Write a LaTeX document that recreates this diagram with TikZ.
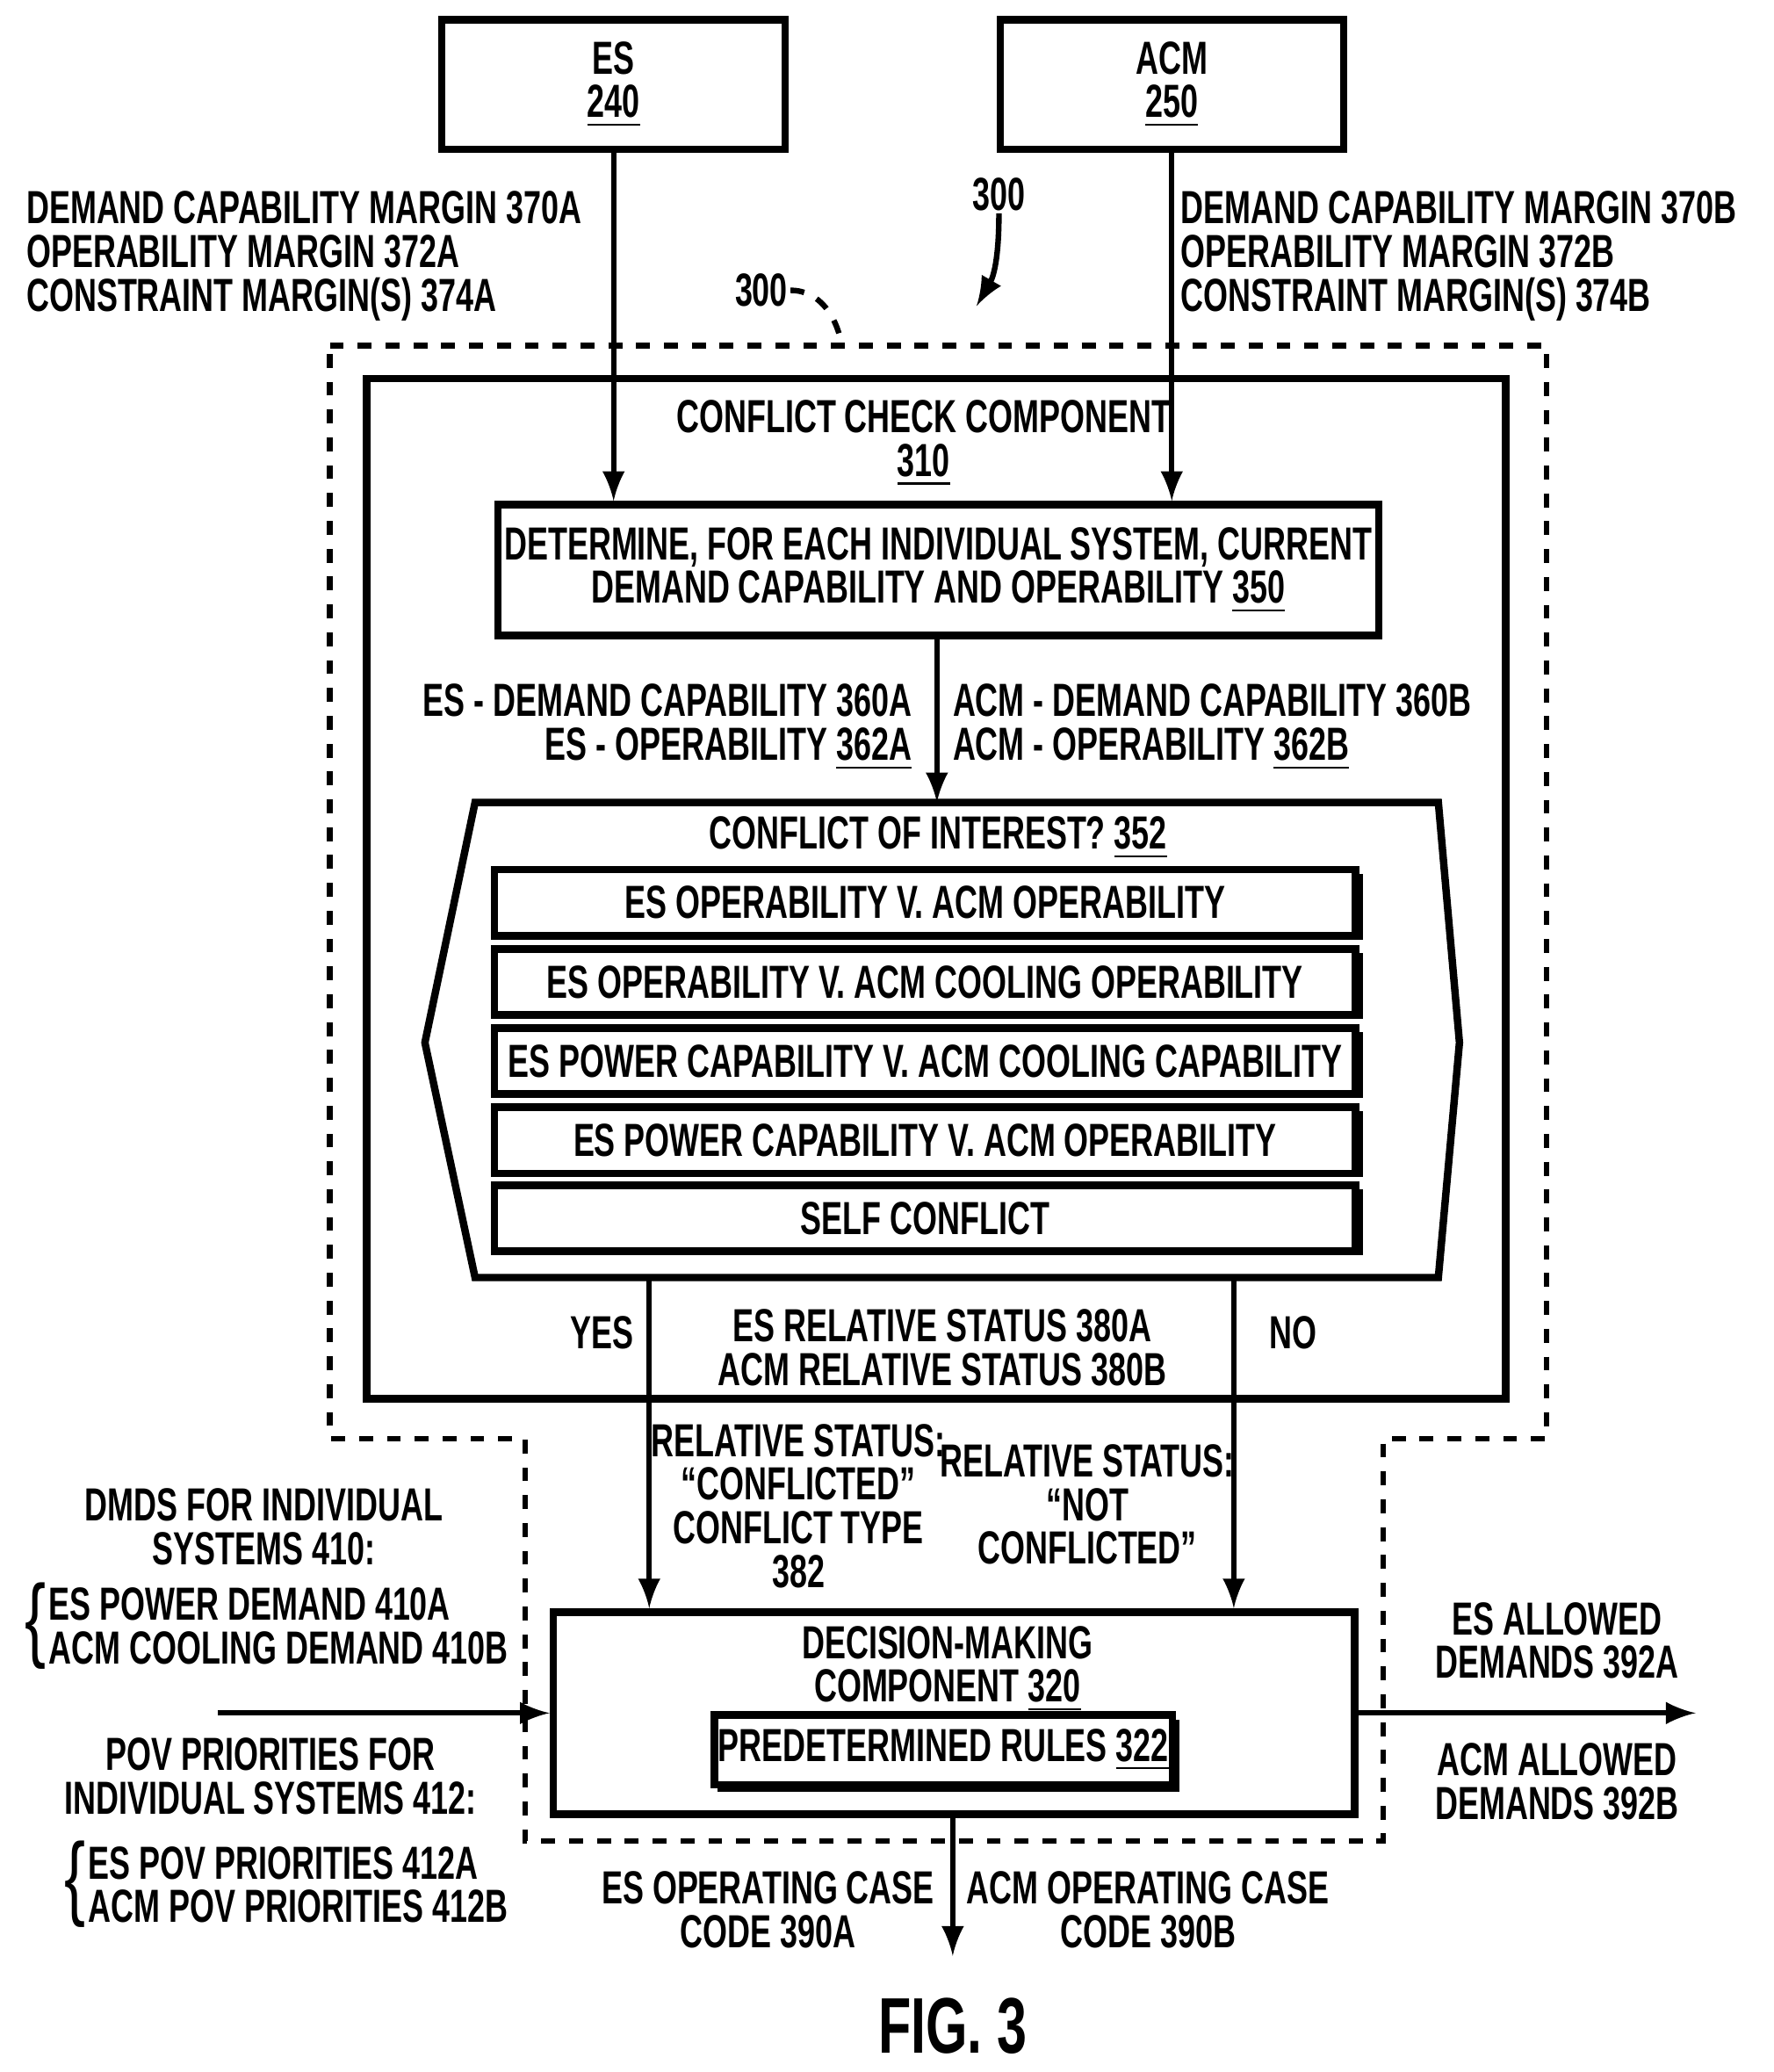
\documentclass[tikz,border=0pt]{standalone}
\usepackage{fontspec}
\setmainfont{Liberation Sans}[FakeStretch=0.68]
\usetikzlibrary{positioning,calc}
\newcommand{\ul}[1]{\underline{#1}}
\tikzset{
  lbl/.style={inner sep=0pt,font=\fontsize{10}{9.4}\selectfont\bfseries,align=center},
  box/.style={draw,line width=1.6pt,lbl},
  rowbox/.style={draw,line width=1.6pt,lbl,minimum width=6.52cm,minimum height=0.5cm},
  flow/.style={line width=1.2pt,-latex},
}
\begin{document}
\begin{tikzpicture}[x=0.01cm,y=-0.01cm,line width=1.2pt]
\useasboundingbox (0,0) rectangle (1344,1570);

% top systems
\node [box,minimum width=2.6cm,minimum height=0.98cm] (es) at (465,64) {ES\\\ul{240}};
\node [box,minimum width=2.6cm,minimum height=0.98cm] (acm) at (888,64) {ACM\\\ul{250}};

\node [lbl,align=left,anchor=north west] (marginA) at (18,143) {DEMAND CAPABILITY MARGIN 370A\\OPERABILITY MARGIN 372A\\CONSTRAINT MARGIN(S) 374A};
\node [lbl,align=left,anchor=north west] (marginB) at (893,143) {DEMAND CAPABILITY MARGIN 370B\\OPERABILITY MARGIN 372B\\CONSTRAINT MARGIN(S) 374B};

% reference numerals
\node [lbl] (ref300a) at (757,147) {300};
\coordinate (ref300tip) at (740,232);
\draw [-latex] (ref300a.south) to[out=-90,in=60] (ref300tip);
\node [lbl] (ref300b) at (577,220) {300};
\coordinate (dashtop) at (638,262);
\draw [dashed] (ref300b.east) to[out=0,in=100] (dashtop);

% dashed outline
\draw [dashed] (250,262) -- (1172,262) -- (1172,1090) -- (1048,1090) -- (1048,1395)
  -- (398,1395) -- (398,1090) -- (250,1090) -- cycle;

% conflict check component
\draw [line width=1.6pt] (278,287) rectangle (1141,1060);
\node [lbl] (ccc) at (700,336) {CONFLICT CHECK COMPONENT\\\ul{310}};

\node [box,minimum width=6.67cm,minimum height=0.99cm] (det) at (711,432)
  {DETERMINE, FOR EACH INDIVIDUAL SYSTEM, CURRENT\\DEMAND CAPABILITY AND OPERABILITY \ul{350}};
\draw [flow] (es.south) -- (es.south |- det.north);
\draw [flow] (acm.south) -- (acm.south |- det.north);

\node [lbl,align=right,anchor=east] (capA) at (693,551) {ES - DEMAND CAPABILITY 360A\\ES - OPERABILITY \ul{362A}};
\node [lbl,align=left,anchor=west] (capB) at (720,551) {ACM - DEMAND CAPABILITY 360B\\ACM - OPERABILITY \ul{362B}};

% conflict of interest
\draw [line width=1.6pt] (360,608) -- (1090,608) -- (1106,790) -- (1090,968) -- (360,968) -- (322,790) -- cycle;
\coordinate (hextop) at (710,608);
\draw [flow] (det.south -| hextop) -- (hextop);
\node [lbl] (coi) at (711,635) {CONFLICT OF INTEREST? \ul{352}};
\foreach \y/\t [count=\i] in {684/ES OPERABILITY V. ACM OPERABILITY,
    744/ES OPERABILITY V. ACM COOLING OPERABILITY,
    804/ES POWER CAPABILITY V. ACM COOLING CAPABILITY,
    864/ES POWER CAPABILITY V. ACM OPERABILITY,
    923/SELF CONFLICT} {
  \fill (704,\y) ++(-326,-22) rectangle ++(655,50);
  \node [rowbox,fill=white] (row\i) at (701,\y) {\t};
}

\node [lbl] (yes) at (456,1010) {YES};
\node [lbl] (no) at (980,1010) {NO};
\node [lbl] (rel) at (714,1021) {ES RELATIVE STATUS 380A\\ACM RELATIVE STATUS 380B};

% decision-making component
\node [box,minimum width=6.07cm,minimum height=1.53cm] (dmc) at (723,1298) {};
\node [lbl,anchor=north] (dmctxt) at (718,1230) {DECISION-MAKING\\COMPONENT \ul{320}};
\fill (718,1329) ++(-174,-26) rectangle ++(350,55);
\node [box,fill=white,minimum width=3.47cm,minimum height=0.53cm] (rules) at (715,1326) {PREDETERMINED RULES \ul{322}};

\coordinate (yestop) at (492,968);
\coordinate (notop) at (935,968);
\draw [flow] (yestop) -- (yestop |- dmc.north);
\draw [flow] (notop) -- (notop |- dmc.north);
\node [lbl] (conf) at (605,1141) {RELATIVE STATUS:\\``CONFLICTED''\\CONFLICT TYPE\\382};
\node [lbl] (notconf) at (824,1140) {RELATIVE STATUS:\\``NOT\\CONFLICTED''};

% inputs
\node [lbl] (dmds) at (200,1157) {DMDS FOR INDIVIDUAL\\SYSTEMS 410:};
\node [lbl,align=left,anchor=west] (dmdsl) at (35,1232) {ES POWER DEMAND 410A\\ACM COOLING DEMAND 410B};
\node [lbl,anchor=east,font=\fontsize{20}{20}\selectfont] (br1) at (37,1232) {\{};
\node [lbl] (pov) at (205,1346) {POV PRIORITIES FOR\\INDIVIDUAL SYSTEMS 412:};
\node [lbl,align=left,anchor=west] (povl) at (65,1428) {ES POV PRIORITIES 412A\\ACM POV PRIORITIES 412B};
\node [lbl,anchor=east,font=\fontsize{20}{20}\selectfont] (br2) at (67,1428) {\{};
\coordinate (instart) at (165,1298);
\draw [flow] (instart) -- (dmc.west);

% outputs
\node [lbl] (esal) at (1180,1243) {ES ALLOWED\\DEMANDS 392A};
\node [lbl] (acmal) at (1180,1350) {ACM ALLOWED\\DEMANDS 392B};
\coordinate (outend) at (1285,1298);
\draw [flow] (dmc.east) -- (outend);
\coordinate (downend) at (722,1482);
\draw [flow] (dmc.south -| downend) -- (downend);
\node [lbl] (esop) at (582,1447) {ES OPERATING CASE\\CODE 390A};
\node [lbl] (acmop) at (870,1447) {ACM OPERATING CASE\\CODE 390B};

\node [lbl,font=\fontsize{17}{17}\selectfont\bfseries] (fig) at (722,1535) {FIG. 3};
\end{tikzpicture}
\end{document}
